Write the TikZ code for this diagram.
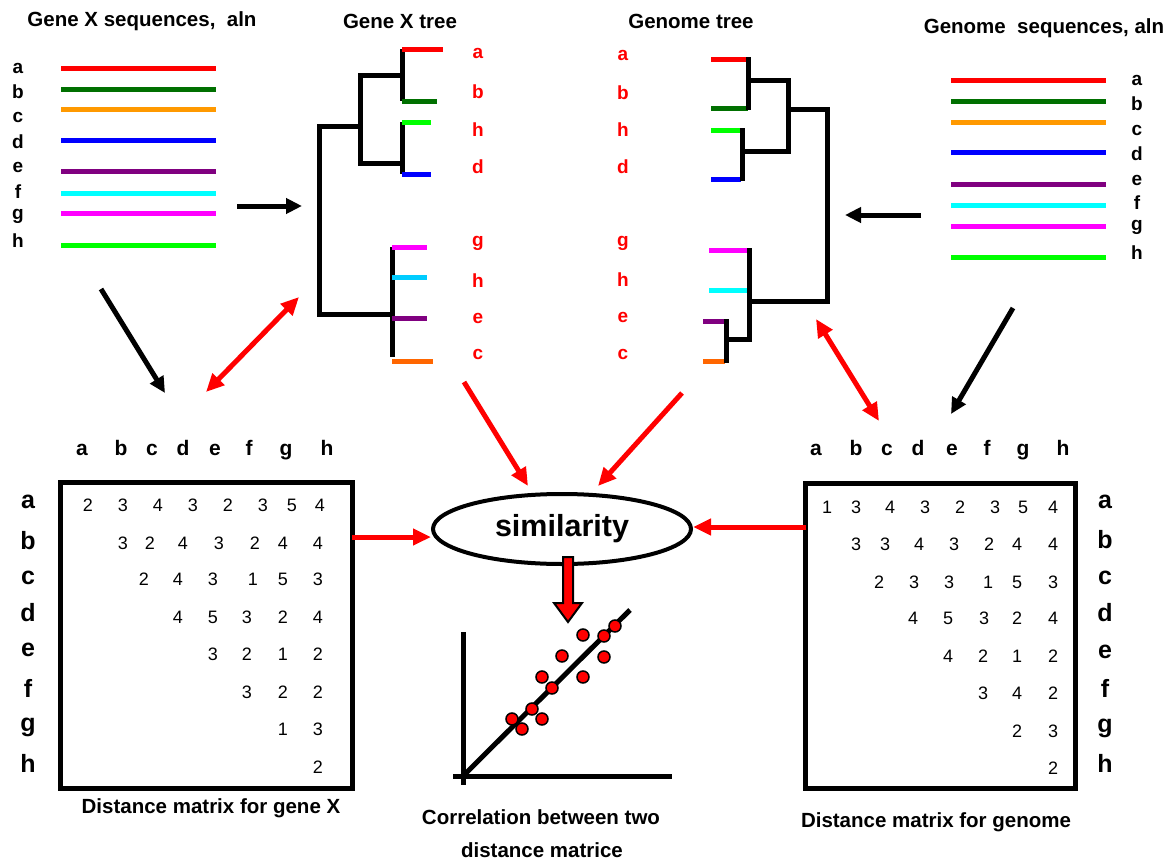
\documentclass[tikz,border=0pt]{standalone}
\usepackage{fontspec}
\setmainfont{Liberation Sans}
\usetikzlibrary{arrows.meta,shapes.geometric}
\definecolor{dgreen}{RGB}{0,112,0}
\definecolor{lgreen}{RGB}{0,255,0}
\definecolor{sorange}{RGB}{255,153,0}
\definecolor{torange}{RGB}{255,102,0}
\definecolor{purp}{RGB}{128,0,128}
\definecolor{tcyan}{RGB}{0,204,255}
\definecolor{scyan}{RGB}{0,255,255}
\definecolor{smag}{RGB}{255,0,255}
\definecolor{sred}{RGB}{255,0,0}
\definecolor{sblue}{RGB}{0,0,255}
\tikzset{
  seq/.style={line width=5pt},
  tree/.style={line width=5pt, black, line join=miter},
  leaf/.style={line width=5pt},
  ttl/.style={font=\bfseries\fontsize{20.5}{24}\selectfont, inner sep=0pt},
  slab/.style={font=\bfseries\fontsize{19}{22}\selectfont, inner sep=0pt},
  tlab/.style={font=\bfseries\fontsize{19}{22}\selectfont, text=sred, inner sep=0pt},
  hlab/.style={font=\bfseries\fontsize{21}{24}\selectfont, inner sep=0pt, anchor=base},
  rlab/.style={font=\bfseries\fontsize{25}{28}\selectfont, inner sep=0pt},
  num/.style={font=\fontsize{18}{20}\selectfont, inner sep=0pt},
  captxt/.style={font=\bfseries\fontsize{20.5}{24}\selectfont, inner sep=0pt},
  arr/.style={line width=5pt, -{Triangle[length=16pt,width=15pt]}},
  rarr/.style={line width=5pt, sred, -{Triangle[length=18pt,width=16pt]}},
  rdbl/.style={line width=5pt, sred, {Triangle[length=18pt,width=16pt]}-{Triangle[length=18pt,width=16pt]}},
  dot/.style={circle, fill=sred, draw=black, line width=1.5pt, minimum size=12pt, inner sep=0pt},
}
\newcommand\MatRow[3]{\foreach \xx/\vv [count=\ii] in {#3} {\node[num] (#1\ii) at (\xx,#2) {\vv};}}
\begin{document}
\begin{tikzpicture}[x=1pt,y=-1pt]
\useasboundingbox[fill=white] (0,0) rectangle (1171,862);

% ---------- titles ----------
\node[ttl] (t1) at (142,21) {Gene X sequences,\ \ aln};
\node[ttl] (t2) at (400,21) {Gene X tree};
\node[ttl] (t3) at (691,21) {Genome tree};
\node[ttl] (t4) at (1044,28) {Genome\ \ sequences,\ aln};

% ---------- gene X sequences ----------
\foreach \c/\y in {sred/68, dgreen/89, sorange/109, sblue/140, purp/171, scyan/193, smag/213, lgreen/245}
  {\draw[seq, \c] (61,\y) -- (216,\y);}
\foreach \l/\y in {a/68, b/92, c/117, d/142, e/167, f/192, g/216, h/241}
  {\node[slab] (gl\l) at (18,\y) {\l};}

% ---------- genome sequences ----------
\foreach \c/\y in {sred/80, dgreen/101, sorange/122, sblue/152, purp/184, scyan/205, smag/226, lgreen/257}
  {\draw[seq, \c] (951,\y) -- (1106,\y);}
\foreach \l/\y in {a/80, b/104, c/130, d/154, e/180, f/203, g/227, h/253}
  {\node[slab] (sl\l) at (1137,\y) {\l};}

% ---------- gene X tree ----------
\draw[tree] (402,49) -- (402,101);
\draw[tree] (402,75) -- (360,75) -- (360,163) -- (402,163);
\draw[tree] (402,122) -- (402,174);
\draw[tree] (360,126) -- (319,126) -- (319,314) -- (392,314);
\draw[tree] (392,247) -- (392,357);
\draw[leaf, sred] (402,49) -- (443,49);
\draw[leaf, dgreen] (402,101) -- (437,101);
\draw[leaf, lgreen] (402,122) -- (431,122);
\draw[leaf, sblue] (402,174) -- (431,174);
\draw[leaf, smag] (392,247) -- (427,247);
\draw[leaf, tcyan] (392,277) -- (427,277);
\draw[leaf, purp] (392,318) -- (427,318);
\draw[leaf, torange] (392,361) -- (433,361);
\foreach \l/\y [count=\i] in {a/53, b/92, h/130, d/167, g/243, h/281, e/318, c/354}
  {\node[tlab] (xl\i) at (478,\y) {\l};}

% ---------- genome tree ----------
\draw[leaf, sred] (711,59) -- (748,59);
\draw[leaf, dgreen] (711,108) -- (748,108);
\draw[leaf, lgreen] (711,130) -- (741,130);
\draw[leaf, sblue] (711,179) -- (741,179);
\draw[leaf, smag] (709,250) -- (748,250);
\draw[leaf, scyan] (709,290) -- (748,290);
\draw[leaf, purp] (703,321) -- (725,321);
\draw[leaf, torange] (703,361) -- (725,361);
\draw[tree] (748,57) -- (748,110);
\draw[tree] (748,80) -- (788,80) -- (788,151) -- (742,151);
\draw[tree] (742,128) -- (742,181);
\draw[tree] (788,109) -- (827,109) -- (827,301) -- (749,301);
\draw[tree] (749,248) -- (749,339) -- (726,339);
\draw[tree] (726,319) -- (726,363);
\foreach \l/\y [count=\i] in {a/55, b/93, h/130, d/167, g/243, h/280, e/317, c/354}
  {\node[tlab] (yl\i) at (623,\y) {\l};}

% ---------- matrices ----------
\node[draw, line width=5pt, minimum width=292pt, minimum height=306pt, inner sep=0pt] (m1) at (206,635) {};
\node[draw, line width=5pt, minimum width=270pt, minimum height=305pt, inner sep=0pt] (m2) at (940,635.5) {};

\foreach \l/\x in {a/82, b/121, c/152, d/183, e/215, f/249, g/286, h/327}
  {\node[hlab] (ch1\l) at (\x,455) {\l};}
\foreach \l/\y in {a/502, b/541, c/578, d/613, e/650, f/688, g/727, h/763}
  {\node[rlab] (rh1\l) at (28,\y) {\l};}
\foreach \l/\x in {a/816, b/856, c/887, d/918, e/952, f/987, g/1023, h/1063}
  {\node[hlab] (ch2\l) at (\x,455) {\l};}
\foreach \l/\y in {a/502, b/540, c/578, d/613, e/652, f/688, g/728, h/763}
  {\node[rlab] (rh2\l) at (1105,\y) {\l};}

\MatRow{ma}{505}{88/2,123/3,158/4,193/3,228/2,263/3,292/5,320/4}
\MatRow{mb}{543}{123/3,150/2,183/4,219/3,255/2,283/4,318/4}
\MatRow{mc}{579}{144/2,178/4,213/3,253/1,283/5,318/3}
\MatRow{md}{617}{178/4,213/5,247/3,283/2,318/4}
\MatRow{me}{654}{213/3,247/2,283/1,318/2}
\MatRow{mf}{692}{247/3,283/2,318/2}
\MatRow{mg}{729}{283/1,318/3}
\MatRow{mh}{767}{318/2}

\MatRow{na}{507}{827/1,856/3,890/4,925/3,960/2,995/3,1023/5,1053/4}
\MatRow{nb}{544}{856/3,885/3,919/4,954/3,989/2,1017/4,1053/4}
\MatRow{nc}{582}{879/2,914/3,949/3,988/1,1017/5,1053/3}
\MatRow{nd}{618}{913/4,948/5,984/3,1017/2,1053/4}
\MatRow{ne}{656}{948/4,983/2,1017/1,1053/2}
\MatRow{nf}{693}{983/3,1017/4,1053/2}
\MatRow{ng}{731}{1017/2,1053/3}
\MatRow{nh}{768}{1053/2}

\node[captxt] (c1) at (211,808) {Distance matrix for gene X};
\node[captxt] (c2) at (936,822) {Distance matrix for genome};

% ---------- similarity ----------
\node[ellipse, draw, line width=4pt, minimum width=258pt, minimum height=70pt, inner sep=0pt,
      font=\bfseries\fontsize{30.5}{34}\selectfont] (sim) at (562,529) {similarity};

% ---------- scatter plot ----------
\coordinate (o) at (463,776);
\coordinate (ytop) at (463,632);
\coordinate (ybot) at (463,785);
\coordinate (xl) at (453,776);
\coordinate (xr) at (672,776);
\coordinate (dtop) at (630,610);
\draw[line width=5pt] (ytop) -- (ybot);
\draw[line width=5pt] (xl) -- (xr);
\draw[line width=5pt] (o) -- (dtop);
\foreach \x/\y [count=\i] in {615/626, 583/635, 604/636, 562/656, 604/657, 542/677, 583/677, 552/688, 532/709, 512/719, 542/719, 522/729}
  {\node[dot] (p\i) at (\x,\y) {};}

\node[captxt] (c3) at (541,817) {Correlation between two};
\node[captxt] (c4) at (542,850) {distance matrice};

% ---------- thick down arrow ----------
\draw[fill=sred, draw=black, line width=2pt, line join=miter]
  (563,557) -- (573,557) -- (573,603) -- (582,603) -- (568,622) -- (554,603) -- (563,603) -- cycle;

% ---------- arrows ----------
\coordinate (a1s) at (237,206); \coordinate (a1e) at (302,206);
\draw[arr] (a1s) -- (a1e);
\coordinate (a2s) at (921,215); \coordinate (a2e) at (845,215);
\draw[arr] (a2s) -- (a2e);
\coordinate (a3s) at (101,289); \coordinate (a3e) at (165,393);
\draw[arr] (a3s) -- (a3e);
\coordinate (a4s) at (1013,308); \coordinate (a4e) at (951,414);
\draw[arr] (a4s) -- (a4e);
\coordinate (r1s) at (206,392); \coordinate (r1e) at (299,297);
\draw[rdbl] (r1s) -- (r1e);
\coordinate (r2s) at (816,319); \coordinate (r2e) at (879,421);
\draw[rdbl] (r2s) -- (r2e);
\coordinate (r3s) at (464,382); \coordinate (r3e) at (528,486);
\draw[rarr] (r3s) -- (r3e);
\coordinate (r4s) at (682,393); \coordinate (r4e) at (598,486);
\draw[rarr] (r4s) -- (r4e);
\coordinate (r5s) at (352,537);
\draw[rarr] (r5s) -- (sim.west |- r5s);
\coordinate (r6s) at (806,527);
\draw[rarr] (r6s) -- (sim.east |- r6s);
\end{tikzpicture}
\end{document}
